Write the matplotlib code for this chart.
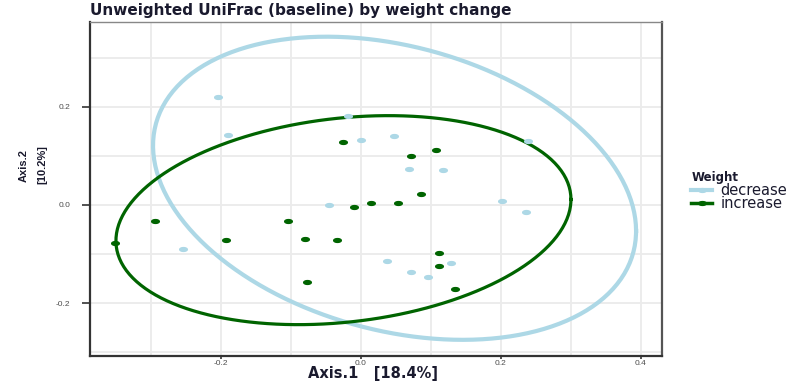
import numpy as np
import matplotlib
matplotlib.use("Agg")
import matplotlib.pyplot as plt
from matplotlib.path import Path
from matplotlib.lines import Line2D

plt.rcParams['font.family'] = ['Liberation Sans', 'DejaVu Sans']

# ---- data ----
groups = ["decrease", "increase"]
colors = {"decrease": "#add8e6", "increase": "#006400"}

decrease_x = [-0.204, -0.190, -0.019, 0.000, 0.047, 0.069, 0.117, -0.046, -0.254,
              0.037, 0.071, 0.096, 0.129, 0.201, 0.236, 0.239]
decrease_y = [0.220, 0.143, 0.182, 0.133, 0.141, 0.073, 0.071, 0.000, -0.090,
              -0.114, -0.137, -0.147, -0.118, 0.008, -0.014, 0.131]

increase_x = [-0.351, -0.294, -0.193, -0.104, -0.080, -0.034, -0.077, -0.010, 0.014,
              0.053, 0.086, 0.111, 0.111, 0.134, -0.026, 0.071, 0.107]
increase_y = [-0.078, -0.033, -0.071, -0.033, -0.069, -0.071, -0.157, -0.004, 0.004,
              0.004, 0.022, -0.098, -0.124, -0.171, 0.129, 0.100, 0.112]

# 95% ellipse parameters (centre, shape matrix)
decrease_center = [0.048, 0.034]
decrease_shape = [[0.119, -0.030], [-0.030, 0.0955]]
increase_center = [-0.025, -0.031]
increase_shape = [[0.1056, 0.0137], [0.0137, 0.0454]]

x_ticks = [-0.2, 0.0, 0.2, 0.4]
y_ticks = [-0.2, 0.0, 0.2]

title = "Unweighted UniFrac (baseline) by weight change"
xlabel = "Axis.1   [18.4%]"
ylabel = "Axis.2\n[10.2%]"
legend_title = "Weight"

# ---- figure ----
W, H = 798, 381
fig = plt.figure(figsize=(W / 100, H / 100), dpi=100)
ax = fig.add_axes([90 / W, 1 - 356 / H, (662 - 90) / W, (356 - 22) / H])
ax.set_xlim(-0.387, 0.430)
ax.set_ylim(-0.308, 0.373)

# grid
for v in [-0.3, -0.2, -0.1, 0.0, 0.1, 0.2, 0.3, 0.4]:
    ax.axvline(v, color="#ebebeb", lw=1.3, zorder=0)
for v in [-0.3, -0.2, -0.1, 0.0, 0.1, 0.2, 0.3]:
    ax.axhline(v, color="#ebebeb", lw=1.3, zorder=0)

# oval marker (stretched circle)
th = np.linspace(0, 2 * np.pi, 40)
oval = Path(np.column_stack([np.cos(th), 0.5 * np.sin(th)]), closed=True)

data = {
    "decrease": (decrease_x, decrease_y, decrease_center, decrease_shape),
    "increase": (increase_x, increase_y, increase_center, increase_shape),
}

t = np.linspace(0, 2 * np.pi, 300)
for g in groups:
    xs, ys, c, S = data[g]
    L = np.linalg.cholesky(np.array(S))
    pts = (L @ np.vstack([np.cos(t), np.sin(t)])).T + np.array(c)
    lw = 3.0 if g == "decrease" else 2.3
    ax.plot(pts[:, 0], pts[:, 1], color=colors[g], lw=lw, zorder=2)
    ax.plot(xs, ys, ls="none", marker=oval, ms=5.5, color=colors[g],
            mec=colors[g], zorder=3)

ax.set_xticks(x_ticks)
ax.set_xticklabels([f"{v:.1f}" for v in x_ticks])
ax.set_yticks(y_ticks)
ax.set_yticklabels([f"{v:.1f}" for v in y_ticks])
ax.tick_params(axis="both", labelsize=6, colors="#333333", labelcolor="#4d4d4d",
               width=1.2)
ax.tick_params(axis="y", length=6, pad=8)
ax.tick_params(axis="x", length=2, pad=0.8)

for s in ["left", "bottom"]:
    ax.spines[s].set_color("#333333")
    ax.spines[s].set_linewidth(1.6)
ax.spines["right"].set_color("#555555")
ax.spines["right"].set_linewidth(1.6)
ax.spines["top"].set_color("#888888")
ax.spines["top"].set_linewidth(1.0)

fig.text(90 / W, 1 - 15 / H, title, fontsize=11, fontweight="bold",
         family="DejaVu Sans", color="#1a1a2e", ha="left", va="baseline")
fig.text(373 / W, 1 - 378 / H, xlabel, fontsize=10.5, fontweight="bold",
         family="DejaVu Sans", color="#1a1a2e", ha="center", va="baseline")
fig.text(33 / W, 1 - 165 / H, ylabel, fontsize=8, fontweight="bold",
         color="#1a1a2e", ha="center", va="center", rotation=90,
         multialignment="center", linespacing=2.1)

handles = [Line2D([0], [0], color=colors[g], lw=3 if g == "decrease" else 2.5,
                  marker=oval, ms=5.5) for g in groups]
leg = fig.legend(handles, groups, loc="upper left",
                 bbox_to_anchor=(684 / W, 1 - 164 / H), frameon=False,
                 title=legend_title, handlelength=1.4,
                 handletextpad=0.6, labelspacing=-0.1, borderpad=0,
                 alignment="left", prop={"family": "DejaVu Sans", "size": 10.5})
leg.get_title().set_fontweight("bold")
leg.get_title().set_fontsize(8.5)
leg.get_title().set_family("DejaVu Sans")
leg.get_title().set_color("#1a1a2e")
for txt in leg.get_texts():
    txt.set_color("#1a1a2e")

fig.savefig("out.png", dpi=100)
